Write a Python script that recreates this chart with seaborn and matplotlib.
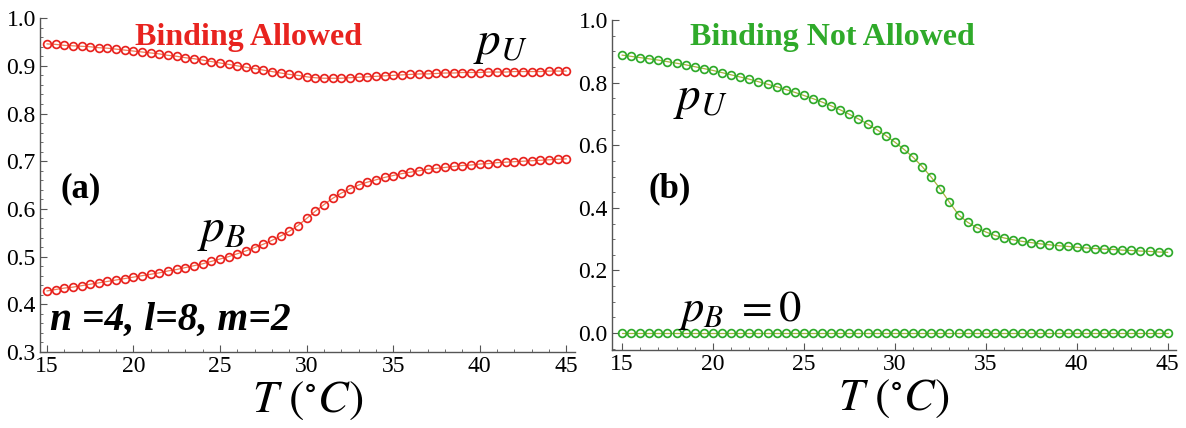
import numpy as np
import pandas as pd
import matplotlib
matplotlib.use("Agg")
import matplotlib.pyplot as plt
from matplotlib.ticker import MultipleLocator
import seaborn as sns

# temperatures (deg C), one point every 0.5
temperature = [15 + 0.5 * i for i in range(61)]

# panel (a): binding allowed
pu_allowed = [0.946, 0.945, 0.943, 0.942, 0.941, 0.940, 0.938, 0.937, 0.935, 0.933,
              0.931, 0.929, 0.927, 0.925, 0.922, 0.920, 0.917, 0.915, 0.912, 0.909,
              0.906, 0.903, 0.900, 0.897, 0.894, 0.891, 0.888, 0.885, 0.882, 0.880,
              0.877, 0.875, 0.874, 0.874, 0.874, 0.875, 0.876, 0.877, 0.878, 0.879,
              0.880, 0.881, 0.882, 0.883, 0.883, 0.884, 0.885, 0.885, 0.886, 0.886,
              0.886, 0.887, 0.887, 0.887, 0.888, 0.888, 0.888, 0.888, 0.889, 0.889,
              0.889]
pb_allowed = [0.428, 0.431, 0.434, 0.436, 0.439, 0.442, 0.445, 0.448, 0.451, 0.454,
              0.457, 0.460, 0.463, 0.466, 0.470, 0.473, 0.477, 0.481, 0.485, 0.490,
              0.495, 0.500, 0.506, 0.512, 0.519, 0.526, 0.534, 0.543, 0.553, 0.565,
              0.580, 0.595, 0.609, 0.622, 0.633, 0.642, 0.650, 0.656, 0.661, 0.666,
              0.670, 0.674, 0.677, 0.680, 0.683, 0.685, 0.687, 0.689, 0.691, 0.692,
              0.694, 0.695, 0.697, 0.698, 0.699, 0.700, 0.701, 0.702, 0.703, 0.704,
              0.705]

# panel (b): binding not allowed
pu_not_allowed = [0.888, 0.884, 0.880, 0.876, 0.872, 0.867, 0.862, 0.857, 0.851, 0.845,
                  0.839, 0.832, 0.825, 0.818, 0.811, 0.803, 0.795, 0.787, 0.778, 0.769,
                  0.759, 0.749, 0.738, 0.726, 0.713, 0.699, 0.684, 0.668, 0.650, 0.631,
                  0.610, 0.587, 0.562, 0.532, 0.498, 0.460, 0.418, 0.378, 0.354, 0.337,
                  0.323, 0.312, 0.304, 0.298, 0.293, 0.289, 0.285, 0.282, 0.279, 0.277,
                  0.274, 0.272, 0.270, 0.268, 0.267, 0.265, 0.264, 0.262, 0.261, 0.259,
                  0.258]
pb_not_allowed = [0.0] * 61

sns.set_style("ticks")
plt.rcParams['font.family'] = ['Liberation Serif', 'DejaVu Serif']
plt.rcParams['mathtext.fontset'] = 'stix'
plt.rcParams['text.color'] = 'black'
plt.rcParams['axes.labelcolor'] = 'black'
plt.rcParams['xtick.labelcolor'] = 'black'
plt.rcParams['ytick.labelcolor'] = 'black'

RED = '#e8231f'
RED_LINE = '#f07a55'
GREEN = '#2faa2a'
GREEN_LINE = '#a4b43c'
AXIS_GRAY = '#555555'

fig = plt.figure(figsize=(11.86, 4.28), dpi=100)
ax_a = fig.add_axes([0.0337, 0.1776, 0.4511, 0.780])
ax_b = fig.add_axes([0.516, 0.1822, 0.4755, 0.771])


def draw_series(ax, y, edge, line):
    df = pd.DataFrame({'T': temperature, 'p': y})
    sns.lineplot(data=df, x='T', y='p', ax=ax, color=line, linewidth=0.9,
                 marker='o', markersize=5.6, markerfacecolor='none',
                 markeredgecolor=edge, markeredgewidth=1.25)


def style_axes(ax, xlim, ylim, ymajor, yminor):
    ax.set_xlim(*xlim)
    ax.set_ylim(*ylim)
    ax.xaxis.set_major_locator(MultipleLocator(5))
    ax.xaxis.set_minor_locator(MultipleLocator(1))
    ax.yaxis.set_major_locator(MultipleLocator(ymajor))
    ax.yaxis.set_minor_locator(MultipleLocator(yminor))
    ax.yaxis.set_major_formatter('{x:.1f}')
    for side in ('top', 'right'):
        ax.spines[side].set_visible(False)
    for side in ('left', 'bottom'):
        ax.spines[side].set_color(AXIS_GRAY)
        ax.spines[side].set_linewidth(1.0)
    ax.tick_params(which='major', direction='in', length=5, width=0.8,
                   color=AXIS_GRAY, labelcolor='black', labelsize=17, pad=3)
    ax.tick_params(which='minor', direction='in', length=2.5, width=0.6,
                   color=AXIS_GRAY)
    ax.set_xlabel(r'$T\ (^{\circ}C)$', fontsize=33, labelpad=2, color='black')
    ax.set_ylabel('')


draw_series(ax_a, pu_allowed, RED, RED_LINE)
draw_series(ax_a, pb_allowed, RED, RED_LINE)
style_axes(ax_a, (14.6, 45.5), (0.3, 1.0), 0.1, 0.02)

draw_series(ax_b, pu_not_allowed, GREEN, GREEN_LINE)
draw_series(ax_b, pb_not_allowed, GREEN, GREEN_LINE)
style_axes(ax_b, (14.45, 45.45), (-0.054, 1.0), 0.2, 0.05)

# panel (a) annotations
ax_a.text(0.389, 0.943, 'Binding Allowed', transform=ax_a.transAxes, color=RED,
          fontsize=23, fontweight='bold', ha='center', va='center')
ax_a.text(0.86, 0.92, r'$p_U$', transform=ax_a.transAxes, fontsize=34,
          ha='center', va='center')
ax_a.text(0.34, 0.36, r'$p_B$', transform=ax_a.transAxes, fontsize=34,
          ha='center', va='center')
ax_a.text(0.077, 0.49, '(a)', transform=ax_a.transAxes, fontsize=25,
          fontweight='bold', ha='center', va='center')
ax_a.text(0.019, 0.096, 'n =4, l=8, m=2', transform=ax_a.transAxes, fontsize=28.5,
          fontweight='bold', style='italic', ha='left', va='center')

# panel (b) annotations
ax_b.text(0.39, 0.948, 'Binding Not Allowed', transform=ax_b.transAxes, color=GREEN,
          fontsize=23, fontweight='bold', ha='center', va='center')
ax_b.text(0.156, 0.758, r'$p_U$', transform=ax_b.transAxes, fontsize=34,
          ha='center', va='center')
ax_b.text(0.103, 0.49, '(b)', transform=ax_b.transAxes, fontsize=25,
          fontweight='bold', ha='center', va='center')
ax_b.text(0.227, 0.121, r'$p_B\ = 0$', transform=ax_b.transAxes, fontsize=32,
          ha='center', va='center')

fig.savefig('out.png', dpi=100)
